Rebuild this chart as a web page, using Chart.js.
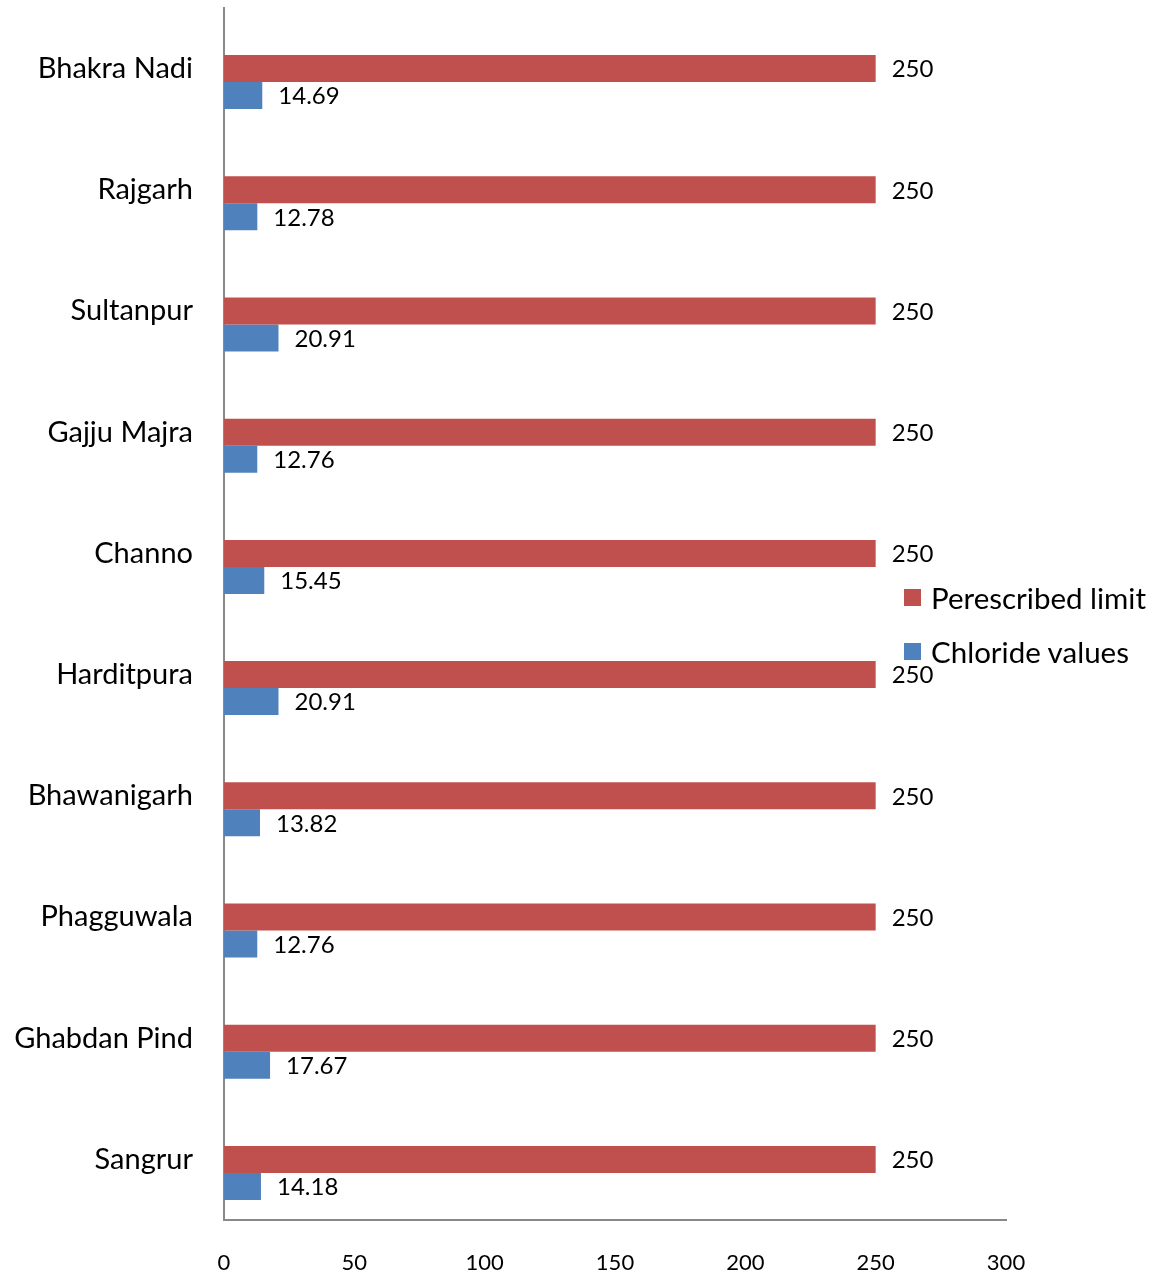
<!DOCTYPE html>
<html>
<head>
<meta charset="utf-8">
<script src="https://cdn.jsdelivr.net/npm/chart.js@4"></script>
<style>
html, body { margin: 0; padding: 0; background: #fff; }
#wrap { position: relative; width: 1162px; height: 1276px; }
#legend { position: absolute; left: 904px; top: 570px; font-family: Lato, sans-serif; font-size: 29.5px; color: #000; }
#legend .item { display: flex; align-items: center; height: 54px; white-space: nowrap; }
#legend .box { width: 17px; height: 17px; margin-right: 10px; }
</style>
</head>
<body>
<div id="wrap">
  <canvas id="chart" width="1162" height="1276"></canvas>
  <div id="legend"></div>
</div>
<script>
const categories = ["Bhakra Nadi", "Rajgarh", "Sultanpur", "Gajju Majra", "Channo",
                    "Harditpura", "Bhawanigarh", "Phagguwala", "Ghabdan Pind", "Sangrur"];
const limitValues = [250, 250, 250, 250, 250, 250, 250, 250, 250, 250];
const chlorideValues = [14.69, 12.78, 20.91, 12.76, 15.45, 20.91, 13.82, 12.76, 17.67, 14.18];
const xTickMin = 0;
const xTickMax = 300;
const xTickStep = 50;

const RED = "#C0504D";
const BLUE = "#4F81BD";
const AXIS = "#898989";

// value labels at the end of each bar
const barLabels = {
    id: "barLabels",
    afterDatasetsDraw(chart) {
        const ctx = chart.ctx;
        ctx.save();
        ctx.font = "24px Lato";
        ctx.fillStyle = "#000";
        ctx.textAlign = "left";
        ctx.textBaseline = "middle";
        chart.data.datasets.forEach((ds, i) => {
            if (!ds.showLabels) return;
            chart.getDatasetMeta(i).data.forEach((bar, j) => {
                ctx.fillText(String(ds.data[j]), bar.x + 16, bar.y + 1);
            });
        });
        ctx.restore();
    }
};

const chart = new Chart(document.getElementById("chart"), {
    type: "bar",
    data: {
        labels: categories,
        datasets: [
            // empty slot kept above the red bar, as in the original cluster
            { label: "", data: categories.map(() => null), backgroundColor: "rgba(0,0,0,0)", showLabels: false },
            { label: "Perescribed limit", data: limitValues, backgroundColor: RED, showLabels: true },
            { label: "Chloride values", data: chlorideValues, backgroundColor: BLUE, showLabels: true }
        ]
    },
    options: {
        indexAxis: "y",
        responsive: false,
        animation: false,
        devicePixelRatio: 1,
        datasets: { bar: { barPercentage: 1, categoryPercentage: 0.668 } },
        layout: { padding: { top: 8, right: 156, left: 0, bottom: 0 } },
        plugins: { legend: { display: false }, tooltip: { enabled: false } },
        scales: {
            x: {
                min: xTickMin, max: xTickMax,
                ticks: { stepSize: xTickStep, color: "#000", font: { family: "Lato", size: 22 }, padding: 30, maxRotation: 0, autoSkip: false },
                grid: { display: false, drawTicks: false },
                border: { color: AXIS, width: 2 },
                afterFit(scale) { scale.height = 56; scale.paddingLeft = 0; scale.paddingRight = 0; }
            },
            y: {
                ticks: { color: "#000", font: { family: "Lato", size: 29 }, padding: 31, autoSkip: false },
                grid: { display: false, drawTicks: false },
                border: { color: AXIS, width: 2 },
                afterFit(scale) { scale.width = 224; scale.paddingTop = 0; scale.paddingBottom = 0; }
            }
        }
    },
    plugins: [barLabels]
});

// legend
const legendEl = document.getElementById("legend");
chart.data.datasets.filter(ds => ds.label).forEach(ds => {
    const item = document.createElement("div");
    item.className = "item";
    const box = document.createElement("span");
    box.className = "box";
    box.style.background = ds.backgroundColor;
    const txt = document.createElement("span");
    txt.textContent = ds.label;
    item.appendChild(box);
    item.appendChild(txt);
    legendEl.appendChild(item);
});
</script>
</body>
</html>
